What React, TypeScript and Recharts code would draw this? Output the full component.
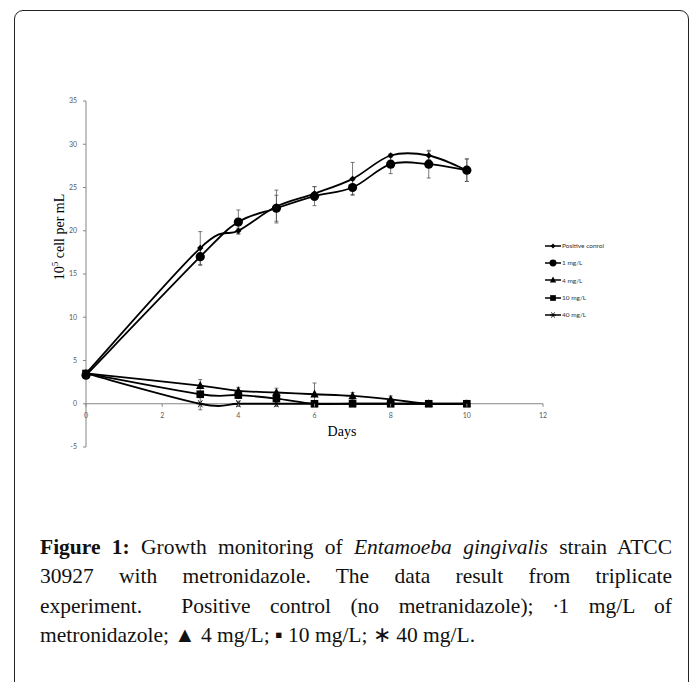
import React from 'react';
import { LineChart, Line, XAxis, YAxis, ErrorBar, ReferenceLine } from 'recharts';

const days = [0, 3, 4, 5, 6, 7, 8, 9, 10];
const positiveControl = [3.5, 18, 20, 22.8, 24.3, 26, 28.7, 28.7, 27];
const positiveControlErr = [0, 1.9, 0.3, 1.9, 0.8, 1.9, 0.2, 0.5, 1.3];
const mg1 = [3.3, 17, 21, 22.6, 24, 25, 27.7, 27.7, 27];
const mg1Err = [0, 1, 1.4, 1.5, 1.1, 0.8, 1.1, 1.6, 1.3];
const mg4 = [3.5, 2.1, 1.5, 1.3, 1.1, 0.9, 0.5, 0, 0];
const mg4Err = [0, 0.7, 0.4, 0.5, 1.3, 0.4, 0.4, 0, 0];
const mg10 = [3.5, 1.1, 1.0, 0.6, 0, 0, 0, 0, 0];
const mg10Err = [0, 0.3, 0.4, 0.5, 0.1, 0.1, 0.1, 0, 0];
const mg40 = [3.5, 0, 0, 0, 0, 0, 0, 0, 0];
const mg40Err = [0, 0.7, 0.3, 0.3, 0, 0, 0, 0, 0];

const xTicks = [0, 2, 4, 6, 8, 10, 12];
const yTicks = [-5, 0, 5, 10, 15, 20, 25, 30, 35];
const Y_MIN = -5;
const Y_MAX = 35;

type Shape = 'diamond' | 'circle' | 'triangle' | 'square' | 'star';

// drawn in this order (stars under squares)
const series: { key: string; name: string; shape: Shape; values: number[]; err: number[] }[] = [
  { key: 'mg40', name: '40 mg/L', shape: 'star', values: mg40, err: mg40Err },
  { key: 'mg10', name: '10 mg/L', shape: 'square', values: mg10, err: mg10Err },
  { key: 'mg4', name: '4 mg/L', shape: 'triangle', values: mg4, err: mg4Err },
  { key: 'pc', name: 'Positive conrol', shape: 'diamond', values: positiveControl, err: positiveControlErr },
  { key: 'mg1', name: '1 mg/L', shape: 'circle', values: mg1, err: mg1Err },
];
const legendOrder = ['pc', 'mg1', 'mg4', 'mg10', 'mg40'];

const data = days.map((d, i) => {
  const row: Record<string, number> = { day: d };
  series.forEach((s) => {
    row[s.key] = s.values[i];
    row[s.key + 'Err'] = s.err[i];
  });
  return row;
});

const W = 692;
const H = 470;
const PLOT_TOP = 101;
const PLOT_BOTTOM = 447;
const zeroOffset = ((PLOT_BOTTOM - PLOT_TOP) * (0 - Y_MIN)) / (Y_MAX - Y_MIN);

// Excel-like smoothed line (Catmull-Rom as cubic bezier)
const excelSmooth: any = (context: any) => {
  let pts: number[][] = [];
  return {
    areaStart() {},
    areaEnd() {},
    lineStart() {
      pts = [];
    },
    point(x: number, y: number) {
      pts.push([+x, +y]);
    },
    lineEnd() {
      if (!pts.length) return;
      context.moveTo(pts[0][0], pts[0][1]);
      for (let i = 0; i < pts.length - 1; i++) {
        const p0 = pts[i - 1] || pts[i];
        const p1 = pts[i];
        const p2 = pts[i + 1];
        const p3 = pts[i + 2] || p2;
        context.bezierCurveTo(
          p1[0] + (p2[0] - p0[0]) / 6,
          p1[1] + (p2[1] - p0[1]) / 6,
          p2[0] - (p3[0] - p1[0]) / 6,
          p2[1] - (p3[1] - p1[1]) / 6,
          p2[0],
          p2[1]
        );
      }
    },
  };
};

const Marker = ({ shape, cx, cy, k = 1 }: { shape: Shape; cx: number; cy: number; k?: number }) => {
  if (shape === 'diamond') {
    const r = 3.2 * k;
    return <polygon points={`${cx},${cy - r} ${cx + r},${cy} ${cx},${cy + r} ${cx - r},${cy}`} fill="#000" />;
  }
  if (shape === 'circle') return <circle cx={cx} cy={cy} r={4.6 * k} fill="#000" />;
  if (shape === 'triangle') {
    const r = 4.2 * k;
    return <polygon points={`${cx},${cy - r * 1.1} ${cx + r},${cy + r * 0.8} ${cx - r},${cy + r * 0.8}`} fill="#000" />;
  }
  if (shape === 'square') {
    const r = 3.8 * k;
    return <rect x={cx - r} y={cy - r} width={2 * r} height={2 * r} fill="#000" />;
  }
  const r = 4 * k;
  return (
    <g stroke="#000" strokeWidth={0.9}>
      <line x1={cx - r} y1={cy} x2={cx + r} y2={cy} />
      <line x1={cx - r * 0.5} y1={cy - r * 0.87} x2={cx + r * 0.5} y2={cy + r * 0.87} />
      <line x1={cx - r * 0.5} y1={cy + r * 0.87} x2={cx + r * 0.5} y2={cy - r * 0.87} />
    </g>
  );
};

const renderDot = (shape: Shape) => (props: any) => (
  <Marker key={`${shape}-${props.index}`} shape={shape} cx={props.cx} cy={props.cy} />
);

const XTick = (props: any) => {
  const { x, y, payload } = props;
  const y0 = y - zeroOffset;
  return (
    <g>
      <line x1={x} x2={x} y1={y0} y2={y0 + 3} stroke="#868686" />
      <text x={x} y={y0 + 14.5} textAnchor="middle" fontSize={7} fill="#595959" fontFamily="Lato">
        {payload.value}
      </text>
    </g>
  );
};

const ChartLegend = () => (
  <div style={{ position: 'absolute', left: 545, top: 237, fontFamily: 'Lato', fontSize: 6.5, color: '#333' }}>
    {legendOrder.map((k) => {
      const s = series.find((x) => x.key === k)!;
      return (
        <div key={k} style={{ display: 'flex', alignItems: 'center', height: 17.3 }}>
          <svg width={16} height={10} style={{ display: 'block' }}>
            <line x1={0} y1={5} x2={16} y2={5} stroke="#000" strokeWidth={1.5} />
            <Marker shape={s.shape} cx={8} cy={5} k={0.75} />
          </svg>
          <span style={{ marginLeft: 1 }}>{s.name}</span>
        </div>
      );
    })}
  </div>
);

const App: React.FC = () => {
  return (
    <div style={{ position: 'absolute', left: 0, top: 0, width: W, height: 682, overflow: 'hidden', background: '#fff' }}>
      <div
        style={{
          position: 'absolute',
          left: 14,
          top: 10,
          width: 673,
          height: 720,
          border: '1.5px solid #222',
          borderRadius: 9,
        }}
      />
      <div style={{ position: 'absolute', left: 0, top: 0 }}>
        <LineChart width={W} height={H} data={data} margin={{ top: PLOT_TOP, right: 149, bottom: H - PLOT_BOTTOM - 1, left: 56 }}>
          <XAxis
            dataKey="day"
            type="number"
            domain={[0, 12]}
            ticks={xTicks}
            axisLine={false}
            tickLine={false}
            tickSize={0}
            tickMargin={0}
            height={1}
            tick={<XTick />}
            interval={0}
          />
          <YAxis
            type="number"
            domain={[Y_MIN, Y_MAX]}
            ticks={yTicks}
            width={30}
            interval={0}
            tickSize={3}
            tickMargin={6}
            stroke="#868686"
            tick={{ fontSize: 7, fill: '#595959', fontFamily: 'Lato' }}
          />
          <ReferenceLine y={0} stroke="#868686" />
          {series.map((s) => (
            <Line
              key={s.key}
              dataKey={s.key}
              name={s.name}
              type={excelSmooth}
              stroke="#000"
              strokeWidth={1.8}
              dot={renderDot(s.shape)}
              activeDot={false}
              isAnimationActive={false}
            >
              <ErrorBar dataKey={s.key + 'Err'} width={2} stroke="#555" strokeWidth={0.8} direction="y" />
            </Line>
          ))}
        </LineChart>
      </div>
      <ChartLegend />
      <div
        style={{
          position: 'absolute',
          left: 60,
          top: 237,
          transform: 'translate(-50%, -50%) rotate(-90deg)',
          whiteSpace: 'nowrap',
          fontFamily: '"Liberation Serif"',
          fontSize: 14,
          lineHeight: '14px',
        }}
      >
        10<sup style={{ fontSize: 9, lineHeight: 0 }}>5</sup> cell per mL
      </div>
      <div
        style={{
          position: 'absolute',
          left: 302,
          top: 424,
          width: 80,
          textAlign: 'center',
          fontFamily: '"Liberation Serif"',
          fontSize: 14,
          lineHeight: '16px',
        }}
      >
        Days
      </div>
      <div
        style={{
          position: 'absolute',
          left: 40,
          top: 533,
          width: 632,
          fontFamily: '"Liberation Serif"',
          fontSize: 21.5,
          lineHeight: '29.3px',
          color: '#111',
        }}
      >
        <div style={{ textAlign: 'justify', textAlignLast: 'justify', whiteSpace: 'nowrap' }}>
          <b>Figure 1:</b> Growth monitoring of <i>Entamoeba gingivalis</i> strain ATCC
        </div>
        <div style={{ textAlign: 'justify', textAlignLast: 'justify', whiteSpace: 'nowrap' }}>
          30927 with metronidazole. The data result from triplicate
        </div>
        <div style={{ textAlign: 'justify', textAlignLast: 'justify', whiteSpace: 'nowrap' }}>
          experiment.&nbsp; Positive control (no metranidazole); ∙1 mg/L of
        </div>
        <div>metronidazole; ▲ 4 mg/L; ▪ 10 mg/L; ∗ 40 mg/L.</div>
      </div>
    </div>
  );
};

export default App;
